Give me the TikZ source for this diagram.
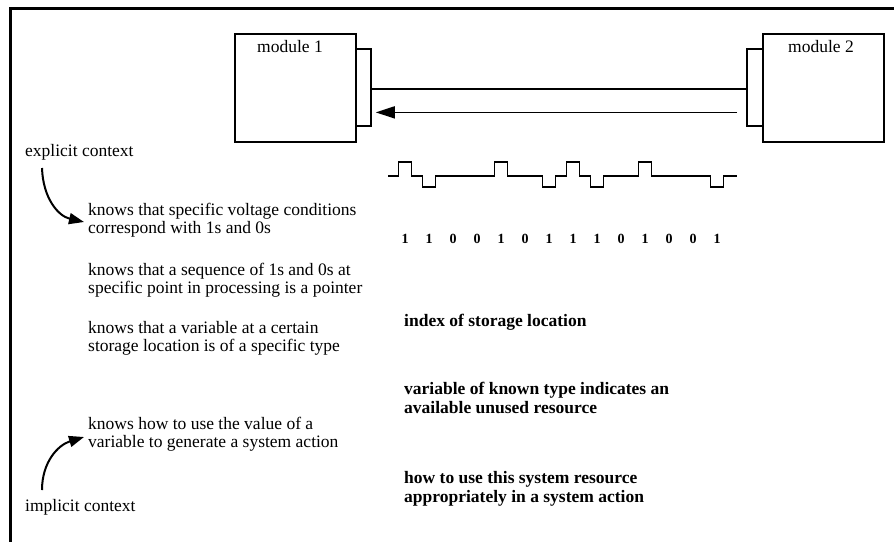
\documentclass[tikz,border=0pt]{standalone}
\usepackage{fontspec}
\setmainfont{Liberation Serif}
\usetikzlibrary{arrows.meta}
\begin{document}
\begin{tikzpicture}[x=1pt,y=-1pt,
  box/.style={draw,line width=1.8pt,inner sep=0pt},
  txt/.style={anchor=west,align=left,inner sep=0pt,font=\fontsize{17.5}{18}\selectfont},
  btxt/.style={anchor=west,align=left,inner sep=0pt,font=\fontsize{17.5}{19.5}\selectfont\bfseries},
  bit/.style={inner sep=0pt,font=\fontsize{14}{14}\selectfont\bfseries},
  wire/.style={line width=1.8pt},
  ctx/.style={line width=2pt,-{Triangle[length=15pt,width=11pt]}}]
\useasboundingbox (0,0) rectangle (894,542);
% frame
\draw[line width=3pt] (894,8) -- (10,8) -- (10,542);
% modules
\node[box,minimum width=121pt,minimum height=108pt,anchor=north west] (m1) at (234,33) {};
\node[box,minimum width=15pt,minimum height=77pt,anchor=north west] (p1) at (355,48) {};
\node[inner sep=0pt,font=\fontsize{17.5}{18}\selectfont] (m1l) at (290,47) {module 1};
\node[box,minimum width=121pt,minimum height=108pt,anchor=north west] (m2) at (762,33) {};
\node[box,minimum width=16pt,minimum height=77pt,anchor=north west] (p2) at (746,48) {};
\node[inner sep=0pt,font=\fontsize{17.5}{18}\selectfont] (m2l) at (821,47) {module 2};
\draw[wire] ([yshift=-1.5pt]p1.east) -- ([yshift=-1.5pt]p2.west);
\draw[wire,-{Triangle[length=19pt,width=12pt]}] ([xshift=-9pt,yshift=-25pt]p2.west) -- ([xshift=4pt,yshift=-25pt]p1.east);
% waveform
\draw[wire] (388,176) -- (398.5,176) -- (398.5,162) -- (411.5,162) -- (411.5,176) -- (422.5,176) -- (422.5,187) -- (435.5,187) -- (435.5,176) -- (494.5,176) -- (494.5,162) -- (507.5,162) -- (507.5,176) -- (542.5,176) -- (542.5,187) -- (555.5,187) -- (555.5,176) -- (566.5,176) -- (566.5,162) -- (579.5,162) -- (579.5,176) -- (590.5,176) -- (590.5,187) -- (603.5,187) -- (603.5,176) -- (638.5,176) -- (638.5,162) -- (651.5,162) -- (651.5,176) -- (710.5,176) -- (710.5,187) -- (723.5,187) -- (723.5,176) -- (737,176);
% bits
\foreach \b [count=\i from 0] in {1,1,0,0,1,0,1,1,1,0,1,0,0,1}
  \node[bit] (b\i) at (405+24*\i,239) {\b};
% left texts
\node[txt] (ec) at (25,152) {explicit context};
\node[txt] (t1) at (88,220) {knows that specific voltage conditions\\correspond with 1s and 0s};
\node[txt] (t2) at (88,280) {knows that a sequence of 1s and 0s at\\specific point in processing is a pointer};
\node[txt] (t3) at (88,338) {knows that a variable at a certain\\storage location is of a specific type};
\node[txt] (t4) at (88,434) {knows how to use the value of a\\variable to generate a system action};
\node[txt] (ic) at (25,507) {implicit context};
% right bold texts
\node[btxt] (r1) at (404,322) {index of storage location};
\node[btxt] (r2) at (404,398) {variable of known type indicates an\\available unused resource};
\node[btxt] (r3) at (404,489) {how to use this system resource\\appropriately in a system action};
% context arrows
\coordinate (ecs) at (42,168);
\coordinate (ece) at (84,222);
\coordinate (ics) at (42,490);
\coordinate (ice) at (84,437);
\draw[ctx] (ecs) .. controls (43,198) and (58,216) .. (ece);
\draw[ctx] (ics) .. controls (42,462) and (58,445) .. (ice);
\end{tikzpicture}
\end{document}
